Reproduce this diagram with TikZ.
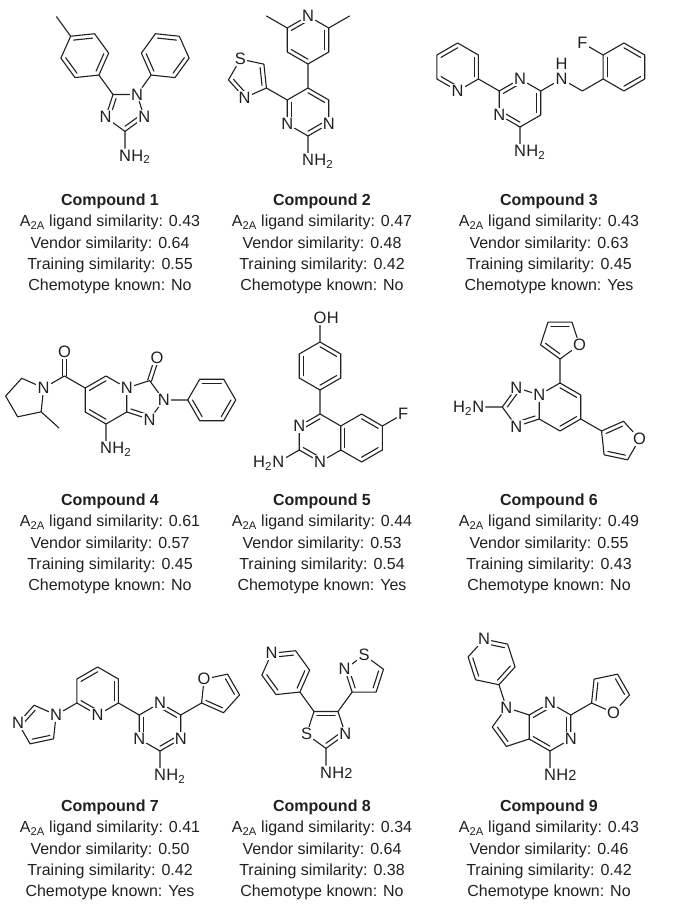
\documentclass[tikz,border=0pt]{standalone}
\usepackage{fontspec}
\setmainfont{Liberation Sans}
\usetikzlibrary{calc}
\pgfdeclarelayer{bg}
\pgfsetlayers{bg,main}
\definecolor{ink}{RGB}{35,31,32}
\newcommand\atomfont{\fontsize{16.5}{16.5}\selectfont}
\tikzset{
mol/.style={x=24pt,y=24pt}, % one bond = 24pt
bond/.style={draw=ink,line width=1.1pt,line cap=round,line join=round},
atom/.style={font=\atomfont,text=ink,fill=white,inner sep=1.2pt},
tail/.style={font=\atomfont,text=ink,inner sep=0pt},
caption/.style={font=\fontsize{16}{21.2}\selectfont,text=ink,align=center,anchor=north,inner sep=0pt}}
% inner line of a double bond, pulled towards the ring centre
\newcommand\dbond[4][0.2]{\draw[bond] ($(#2)!#1!(#4)$) -- ($(#3)!#1!(#4)$);}
% centred double bond (C=O)
\newcommand\cobond[2]{\draw[bond] ($(#1)!2pt!90:(#2)$) -- ($(#2)!2pt!-90:(#1)$) ($(#1)!2pt!-90:(#2)$) -- ($(#2)!2pt!90:(#1)$);}
\newcommand\cpd[5]{\textbf{Compound #1}\\A\textsubscript{2A} ligand similarity: #2\\Vendor similarity: #3\\Training similarity: #4\\Chemotype known: #5}
\begin{document}
\begin{tikzpicture}[x=1pt,y=1pt]
\useasboundingbox (0,0) rectangle (685,913);

% compound 1
\begin{scope}[shift={(125,802)},mol]
\coordinate (tz1) at (0,0);
\coordinate (a3) at (0,-0.851);
\node[atom] (a2) at (0.809,-0.263) {N};
\node[atom] (a1) at (0.5,0.688) {N};
\coordinate (a5) at (-0.5,0.688);
\node[atom] (a4) at (-0.809,-0.263) {N};
\node[atom] (a6) at (0,-1.851) {N};
\node[tail,anchor=base west] (a6h) at ($(a6.base east)+(-1.2pt,0)$) {H\textsubscript{2}};
\coordinate (to1) at (-1.676,2.306);
\coordinate (t0) at (-1.088,1.497);
\coordinate (t1) at (-0.682,2.411);
\coordinate (t2) at (-1.269,3.220);
\coordinate (t3) at (-2.264,3.115);
\coordinate (t4) at (-2.671,2.202);
\coordinate (t5) at (-2.083,1.392);
\coordinate (tm) at (-2.852,3.924);
\coordinate (ph1) at (1.676,2.306);
\coordinate (p0) at (1.088,1.497);
\coordinate (p1) at (2.083,1.392);
\coordinate (p2) at (2.671,2.202);
\coordinate (p3) at (2.264,3.115);
\coordinate (p4) at (1.269,3.220);
\coordinate (p5) at (0.682,2.411);
\begin{pgfonlayer}{bg}
\draw[bond] (a5) -- (a1) -- (a2) -- (a3) -- (a4) -- (a5);
\draw[bond] (a3) -- (a6) (a5) -- (t0) (a1) -- (p0);
\draw[bond] (t0) -- (t1) -- (t2) -- (t3) -- (t4) -- (t5) -- cycle (t3) -- (tm);
\draw[bond] (p0) -- (p1) -- (p2) -- (p3) -- (p4) -- (p5) -- cycle;
\dbond[0.25]{a2}{a3}{tz1} \dbond[0.25]{a4}{a5}{tz1}
\dbond{t2}{t3}{to1} \dbond{t4}{t5}{to1} \dbond{t0}{t1}{to1}
\dbond{p3}{p4}{ph1} \dbond{p1}{p2}{ph1} \dbond{p5}{p0}{ph1}
\end{pgfonlayer}
\end{scope}

% compound 2
\begin{scope}[shift={(308,801)},mol]
\coordinate (pm2) at (0,0);
\coordinate (b5) at (0,1);
\coordinate (b6) at (0.866,0.5);
\node[atom] (b1) at (0.866,-0.5) {N};
\coordinate (b2) at (0,-1);
\node[atom] (b3) at (-0.866,-0.5) {N};
\coordinate (b4) at (-0.866,0.5);
\node[atom] (b7) at (0,-2) {N};
\node[tail,anchor=base west] (b7h) at ($(b7.base east)+(-1.2pt,0)$) {H\textsubscript{2}};
\coordinate (py2) at (0,3);
\coordinate (y0) at (0,2);
\coordinate (y1) at (0.866,2.5);
\coordinate (y2) at (0.866,3.5);
\node[atom] (y3) at (0,4) {N};
\coordinate (y4) at (-0.866,3.5);
\coordinate (y5) at (-0.866,2.5);
\coordinate (ym1) at (1.732,4);
\coordinate (ym2) at (-1.732,4);
\coordinate (th2) at (-2.469,1.425);
\coordinate (h4) at (-1.732,1);
\coordinate (h5) at (-1.837,1.994);
\node[atom] (hS) at (-2.815,2.202) {S};
\coordinate (h2) at (-3.315,1.336);
\node[atom] (hN) at (-2.646,0.593) {N};
\begin{pgfonlayer}{bg}
\draw[bond] (b5) -- (b6) -- (b1) -- (b2) -- (b3) -- (b4) -- (b5);
\draw[bond] (b2) -- (b7) (b5) -- (y0) (b4) -- (h4);
\draw[bond] (y0) -- (y1) -- (y2) -- (y3) -- (y4) -- (y5) -- (y0) (y2) -- (ym1) (y4) -- (ym2);
\draw[bond] (h4) -- (h5) -- (hS) -- (h2) -- (hN) -- (h4);
\dbond{b5}{b6}{pm2} \dbond{b1}{b2}{pm2} \dbond{b3}{b4}{pm2}
\dbond{y4}{y3}{py2} \dbond{y1}{y2}{py2} \dbond{y0}{y5}{py2}
\dbond[0.25]{h4}{h5}{th2} \dbond[0.25]{h2}{hN}{th2}
\end{pgfonlayer}
\end{scope}

% compound 3
\begin{scope}[shift={(520,810)},mol]
\coordinate (pm3) at (0,0);
\node[atom] (cN3) at (0,1) {N};
\coordinate (c4) at (0.866,0.5);
\coordinate (c5) at (0.866,-0.5);
\coordinate (c6) at (0,-1);
\node[atom] (cN1) at (-0.866,-0.5) {N};
\coordinate (c2) at (-0.866,0.5);
\node[atom] (c7) at (0,-2) {N};
\node[tail,anchor=base west] (c7h) at ($(c7.base east)+(-1.2pt,0)$) {H\textsubscript{2}};
\coordinate (py3) at (-2.598,1.5);
\coordinate (q0) at (-1.732,1);
\node[atom] (qN) at (-2.598,0.5) {N};
\coordinate (q2) at (-3.464,1);
\coordinate (q3) at (-3.464,2);
\coordinate (q4) at (-2.598,2.5);
\coordinate (q5) at (-1.732,2);
\node[atom] (cNH) at (1.732,1) {N};
\node[tail,anchor=south] (cNHh) at ($(cNH.north)+(0,2pt)$) {H};
\coordinate (cch) at (2.598,0.5);
\coordinate (bz3) at (4.330,1.5);
\coordinate (f0) at (3.464,1);
\coordinate (f1) at (3.464,2);
\coordinate (f2) at (4.330,2.5);
\coordinate (f3) at (5.196,2);
\coordinate (f4) at (5.196,1);
\coordinate (f5) at (4.330,0.5);
\node[atom] (cF) at (2.598,2.5) {F};
\begin{pgfonlayer}{bg}
\draw[bond] (c2) -- (cN3) -- (c4) -- (c5) -- (c6) -- (cN1) -- (c2);
\draw[bond] (c6) -- (c7) (c2) -- (q0) (c4) -- (cNH) -- (cch) -- (f0) (f1) -- (cF);
\draw[bond] (q0) -- (qN) -- (q2) -- (q3) -- (q4) -- (q5) -- (q0);
\draw[bond] (f0) -- (f1) -- (f2) -- (f3) -- (f4) -- (f5) -- cycle;
\dbond{c2}{cN3}{pm3} \dbond{c4}{c5}{pm3} \dbond{cN1}{c6}{pm3}
\dbond{qN}{q2}{py3} \dbond{q3}{q4}{py3} \dbond{q5}{q0}{py3}
\dbond{f0}{f1}{bz3} \dbond{f2}{f3}{bz3} \dbond{f4}{f5}{bz3}
\end{pgfonlayer}
\end{scope}

% compound 4
\begin{scope}[shift={(106,513)},mol]
\coordinate (hx4) at (0,0);
\coordinate (d5) at (0,1);
\node[atom] (dN4) at (0.866,0.5) {N};
\coordinate (d8a) at (0.866,-0.5);
\coordinate (d8) at (0,-1);
\coordinate (d7) at (-0.866,-0.5);
\coordinate (d6) at (-0.866,0.5);
\node[atom] (d9) at (0,-2) {N};
\node[tail,anchor=base west] (d9h) at ($(d9.base east)+(-1.2pt,0)$) {H\textsubscript{2}};
\coordinate (tr4) at (1.554,0);
\coordinate (d3) at (1.817,0.809);
\node[atom] (dN2) at (2.405,0) {N};
\node[atom] (dN1) at (1.817,-0.809) {N};
\node[atom] (dO1) at (2.126,1.760) {O};
\coordinate (ph4) at (4.405,0);
\coordinate (e0) at (3.405,0);
\coordinate (e1) at (3.905,-0.866);
\coordinate (e2) at (4.905,-0.866);
\coordinate (e3) at (5.405,0);
\coordinate (e4) at (4.905,0.866);
\coordinate (e5) at (3.905,0.866);
\coordinate (dco) at (-1.732,1);
\node[atom] (dO2) at (-1.732,2) {O};
\node[atom] (dpN) at (-2.598,0.5) {N};
\coordinate (r1) at (-3.512,0.907);
\coordinate (r2) at (-4.181,0.164);
\coordinate (r3) at (-3.681,-0.702);
\coordinate (r4) at (-2.703,-0.494);
\coordinate (rme) at (-1.960,-1.163);
\begin{pgfonlayer}{bg}
\draw[bond] (d5) -- (dN4) -- (d8a) -- (d8) -- (d7) -- (d6) -- (d5);
\draw[bond] (dN4) -- (d3) -- (dN2) -- (dN1) -- (d8a) (d8) -- (d9) (dN2) -- (e0);
\draw[bond] (e0) -- (e1) -- (e2) -- (e3) -- (e4) -- (e5) -- cycle;
\draw[bond] (d6) -- (dco) -- (dpN) -- (r1) -- (r2) -- (r3) -- (r4) -- (dpN) (r4) -- (rme);
\dbond{d5}{d6}{hx4} \dbond{d7}{d8}{hx4} \dbond[0.25]{d8a}{dN1}{tr4}
\cobond{d3}{dO1} \cobond{dco}{dO2}
\dbond{e4}{e5}{ph4} \dbond{e2}{e3}{ph4} \dbond{e0}{e1}{ph4}
\end{pgfonlayer}
\end{scope}

% compound 5
\begin{scope}[shift={(320,475)},mol]
\coordinate (pm5) at (0,0);
\coordinate (g4) at (0,1);
\coordinate (g4a) at (0.866,0.5);
\coordinate (g8a) at (0.866,-0.5);
\node[atom] (gN1) at (0,-1) {N};
\coordinate (g2) at (-0.866,-0.5);
\node[atom] (gN3) at (-0.866,0.5) {N};
\coordinate (bz5) at (1.732,0);
\coordinate (g5) at (1.732,1);
\coordinate (g6) at (2.598,0.5);
\coordinate (g7) at (2.598,-0.5);
\coordinate (g8) at (1.732,-1);
\node[atom] (gF) at (3.464,1) {F};
\node[atom] (gN) at (-1.732,-1) {N};
\node[tail,anchor=base east] (gNh) at ($(gN.base west)+(1.2pt,0)$) {H\textsubscript{2}};
\coordinate (ph5) at (0,3);
\coordinate (k0) at (0,2);
\coordinate (k1) at (0.866,2.5);
\coordinate (k2) at (0.866,3.5);
\coordinate (k3) at (0,4);
\coordinate (k4) at (-0.866,3.5);
\coordinate (k5) at (-0.866,2.5);
\node[atom] (gO) at (0,5) {O};
\node[tail,anchor=base west] (gOh) at ($(gO.base east)+(-1.2pt,0)$) {H};
\begin{pgfonlayer}{bg}
\draw[bond] (g4) -- (g4a) -- (g8a) -- (gN1) -- (g2) -- (gN3) -- (g4);
\draw[bond] (g4a) -- (g5) -- (g6) -- (g7) -- (g8) -- (g8a) (g6) -- (gF) (g2) -- (gN) (g4) -- (k0);
\draw[bond] (k0) -- (k1) -- (k2) -- (k3) -- (k4) -- (k5) -- cycle (k3) -- (gO);
\dbond{gN3}{g4}{pm5} \dbond{g2}{gN1}{pm5}
\dbond{g4a}{g8a}{bz5} \dbond{g5}{g6}{bz5} \dbond{g7}{g8}{bz5}
\dbond{k4}{k5}{ph5} \dbond{k2}{k3}{ph5} \dbond{k0}{k1}{ph5}
\end{pgfonlayer}
\end{scope}

% compound 6
\begin{scope}[shift={(560,506)},mol]
\coordinate (hx6) at (0,0);
\coordinate (w5) at (0,1);
\coordinate (w6) at (0.866,0.5);
\coordinate (w7) at (0.866,-0.5);
\coordinate (w8) at (0,-1);
\coordinate (w8a) at (-0.866,-0.5);
\node[atom] (wN4) at (-0.866,0.5) {N};
\coordinate (tr6) at (-1.554,0);
\node[atom] (wN1) at (-1.817,0.809) {N};
\coordinate (w2) at (-2.405,0);
\node[atom] (wN3) at (-1.817,-0.809) {N};
\node[atom] (wN) at (-3.405,0) {N};
\node[tail,anchor=base east] (wNh) at ($(wN.base west)+(1.2pt,0)$) {H\textsubscript{2}};
\coordinate (fu6) at (0,2.851);
\coordinate (u0) at (0,2);
\node[atom] (uO) at (0.809,2.588) {O};
\coordinate (u2) at (0.5,3.539);
\coordinate (u3) at (-0.5,3.539);
\coordinate (u4) at (-0.809,2.588);
\coordinate (fv6) at (2.469,-1.425);
\coordinate (v0) at (1.732,-1);
\coordinate (v1) at (2.646,-0.593);
\node[atom] (vO) at (3.315,-1.336) {O};
\coordinate (v3) at (2.815,-2.202);
\coordinate (v4) at (1.837,-1.994);
\begin{pgfonlayer}{bg}
\draw[bond] (wN4) -- (w5) -- (w6) -- (w7) -- (w8) -- (w8a) -- (wN4);
\draw[bond] (wN4) -- (wN1) -- (w2) -- (wN3) -- (w8a) (w2) -- (wN) (w5) -- (u0) (w7) -- (v0);
\draw[bond] (u0) -- (uO) -- (u2) -- (u3) -- (u4) -- (u0);
\draw[bond] (v0) -- (v1) -- (vO) -- (v3) -- (v4) -- (v0);
\dbond{w5}{w6}{hx6} \dbond{w7}{w8}{hx6}
\dbond[0.25]{w2}{wN1}{tr6} \dbond[0.25]{wN3}{w8a}{tr6}
\dbond[0.25]{u0}{u4}{fu6} \dbond[0.25]{u2}{u3}{fu6}
\dbond[0.25]{v0}{v1}{fv6} \dbond[0.25]{v3}{v4}{fv6}
\end{pgfonlayer}
\end{scope}

% compound 7
\begin{scope}[shift={(160,186)},mol]
\coordinate (tz7) at (0,0);
\node[atom] (zN1) at (0,1) {N};
\coordinate (z2) at (0.866,0.5);
\node[atom] (zN3) at (0.866,-0.5) {N};
\coordinate (z4) at (0,-1);
\node[atom] (zN5) at (-0.866,-0.5) {N};
\coordinate (z6) at (-0.866,0.5);
\node[atom] (z7) at (0,-2) {N};
\node[tail,anchor=base west] (z7h) at ($(z7.base east)+(-1.2pt,0)$) {H\textsubscript{2}};
\coordinate (py7) at (-2.598,1.5);
\coordinate (o0) at (-1.732,1);
\node[atom] (oN) at (-2.598,0.5) {N};
\coordinate (o2) at (-3.464,1);
\coordinate (o3) at (-3.464,2);
\coordinate (o4) at (-2.598,2.5);
\coordinate (o5) at (-1.732,2);
\coordinate (im7) at (-5.067,0.075);
\node[atom] (iN1) at (-4.330,0.5) {N};
\coordinate (i2) at (-5.244,0.907);
\node[atom] (iN3) at (-5.913,0.164) {N};
\coordinate (i4) at (-5.413,-0.702);
\coordinate (i5) at (-4.435,-0.494);
\coordinate (fu7) at (2.469,1.425);
\coordinate (s0) at (1.732,1);
\coordinate (s1) at (2.646,0.593);
\coordinate (s2) at (3.315,1.336);
\coordinate (s3) at (2.815,2.202);
\node[atom] (sO) at (1.837,1.994) {O};
\begin{pgfonlayer}{bg}
\draw[bond] (zN1) -- (z2) -- (zN3) -- (z4) -- (zN5) -- (z6) -- (zN1);
\draw[bond] (z4) -- (z7) (z6) -- (o0) (o2) -- (iN1) (z2) -- (s0);
\draw[bond] (o0) -- (oN) -- (o2) -- (o3) -- (o4) -- (o5) -- (o0);
\draw[bond] (iN1) -- (i2) -- (iN3) -- (i4) -- (i5) -- (iN1);
\draw[bond] (s0) -- (s1) -- (s2) -- (s3) -- (sO) -- (s0);
\dbond{zN1}{z2}{tz7} \dbond{zN3}{z4}{tz7} \dbond{zN5}{z6}{tz7}
\dbond{o5}{o0}{py7} \dbond{oN}{o2}{py7} \dbond{o3}{o4}{py7}
\dbond[0.25]{i2}{iN3}{im7} \dbond[0.25]{i4}{i5}{im7}
\dbond[0.25]{s0}{s1}{fu7} \dbond[0.25]{s2}{s3}{fu7}
\end{pgfonlayer}
\end{scope}

% compound 8
\begin{scope}[shift={(326,185)},mol]
\coordinate (th8) at (0,0);
\coordinate (m2) at (0,-0.851);
\node[atom] (mN3) at (0.809,-0.263) {N};
\coordinate (m4) at (0.5,0.688);
\coordinate (m5) at (-0.5,0.688);
\node[atom] (mS) at (-0.809,-0.263) {S};
\node[atom] (m6) at (0,-1.851) {N};
\node[tail,anchor=base west] (m6h) at ($(m6.base east)+(-1.2pt,0)$) {H{\fontsize{14.5}{14.5}\selectfont 2}};
\coordinate (py8) at (-1.676,2.306);
\coordinate (x0) at (-1.088,1.497);
\coordinate (x1) at (-0.682,2.411);
\coordinate (x2) at (-1.269,3.220);
\node[atom] (xN) at (-2.264,3.115) {N};
\coordinate (x4) at (-2.671,2.202);
\coordinate (x5) at (-2.083,1.392);
\coordinate (it8) at (1.588,2.185);
\coordinate (j0) at (1.088,1.497);
\coordinate (j1) at (2.088,1.497);
\coordinate (j2) at (2.397,2.448);
\node[atom] (jS) at (1.588,3.036) {S};
\node[atom] (jN) at (0.779,2.448) {N};
\begin{pgfonlayer}{bg}
\draw[bond] (m5) -- (m4) -- (mN3) -- (m2) -- (mS) -- (m5);
\draw[bond] (m2) -- (m6) (m5) -- (x0) (m4) -- (j0);
\draw[bond] (x0) -- (x1) -- (x2) -- (xN) -- (x4) -- (x5) -- (x0);
\draw[bond] (j0) -- (j1) -- (j2) -- (jS) -- (jN) -- (j0);
\dbond[0.25]{m4}{m5}{th8} \dbond[0.25]{m2}{mN3}{th8}
\dbond{x2}{xN}{py8} \dbond{x4}{x5}{py8} \dbond{x0}{x1}{py8}
\dbond[0.25]{j0}{jN}{it8} \dbond[0.25]{j1}{j2}{it8}
\end{pgfonlayer}
\end{scope}

% compound 9
\begin{scope}[shift={(550,186)},mol]
\coordinate (pm9) at (0,0);
\node[atom] (nN1) at (0,1) {N};
\coordinate (n2) at (0.866,0.5);
\node[atom] (nN3) at (0.866,-0.5) {N};
\coordinate (n4) at (0,-1);
\coordinate (n4a) at (-0.866,-0.5);
\coordinate (n7a) at (-0.866,0.5);
\node[atom] (n8) at (0,-2) {N};
\node[tail,anchor=base west] (n8h) at ($(n8.base east)+(-1.2pt,0)$) {H{\fontsize{14.5}{14.5}\selectfont 2}};
\coordinate (pr9) at (-1.554,0);
\node[atom] (nN7) at (-1.817,0.809) {N};
\coordinate (n6) at (-2.405,0);
\coordinate (n5) at (-1.817,-0.809);
\coordinate (py9) at (-2.435,2.711);
\coordinate (l0) at (-2.126,1.760);
\coordinate (l1) at (-1.457,2.503);
\coordinate (l2) at (-1.766,3.454);
\node[atom] (lN) at (-2.744,3.662) {N};
\coordinate (l4) at (-3.413,2.919);
\coordinate (l5) at (-3.104,1.968);
\coordinate (fu9) at (2.469,1.425);
\coordinate (fa0) at (1.732,1);
\node[atom] (faO) at (2.646,0.593) {O};
\coordinate (fa2) at (3.315,1.336);
\coordinate (fa3) at (2.815,2.202);
\coordinate (fa4) at (1.837,1.994);
\begin{pgfonlayer}{bg}
\draw[bond] (nN1) -- (n2) -- (nN3) -- (n4) -- (n4a) -- (n7a) -- (nN1);
\draw[bond] (n7a) -- (nN7) -- (n6) -- (n5) -- (n4a) (n4) -- (n8) (nN7) -- (l0) (n2) -- (fa0);
\draw[bond] (l0) -- (l1) -- (l2) -- (lN) -- (l4) -- (l5) -- (l0);
\draw[bond] (fa0) -- (faO) -- (fa2) -- (fa3) -- (fa4) -- (fa0);
\dbond{nN1}{n7a}{pm9} \dbond{n2}{nN3}{pm9} \dbond{n4}{n4a}{pm9}
\dbond[0.25]{n5}{n6}{pr9}
\dbond{lN}{l2}{py9} \dbond{l4}{l5}{py9} \dbond{l0}{l1}{py9}
\dbond[0.25]{fa0}{fa4}{fu9} \dbond[0.25]{fa2}{fa3}{fu9}
\end{pgfonlayer}
\end{scope}

% captions
\node[caption] (cap1) at (110,719) {\cpd{1}{0.43}{0.64}{0.55}{No}};
\node[caption] (cap2) at (322,719) {\cpd{2}{0.47}{0.48}{0.42}{No}};
\node[caption] (cap3) at (549,719) {\cpd{3}{0.43}{0.63}{0.45}{Yes}};
\node[caption] (cap4) at (110,419) {\cpd{4}{0.61}{0.57}{0.45}{No}};
\node[caption] (cap5) at (322,419) {\cpd{5}{0.44}{0.53}{0.54}{Yes}};
\node[caption] (cap6) at (549,419) {\cpd{6}{0.49}{0.55}{0.43}{No}};
\node[caption] (cap7) at (110,113) {\cpd{7}{0.41}{0.50}{0.42}{Yes}};
\node[caption] (cap8) at (322,113) {\cpd{8}{0.34}{0.64}{0.38}{No}};
\node[caption] (cap9) at (549,113) {\cpd{9}{0.43}{0.46}{0.42}{No}};
\end{tikzpicture}
\end{document}
